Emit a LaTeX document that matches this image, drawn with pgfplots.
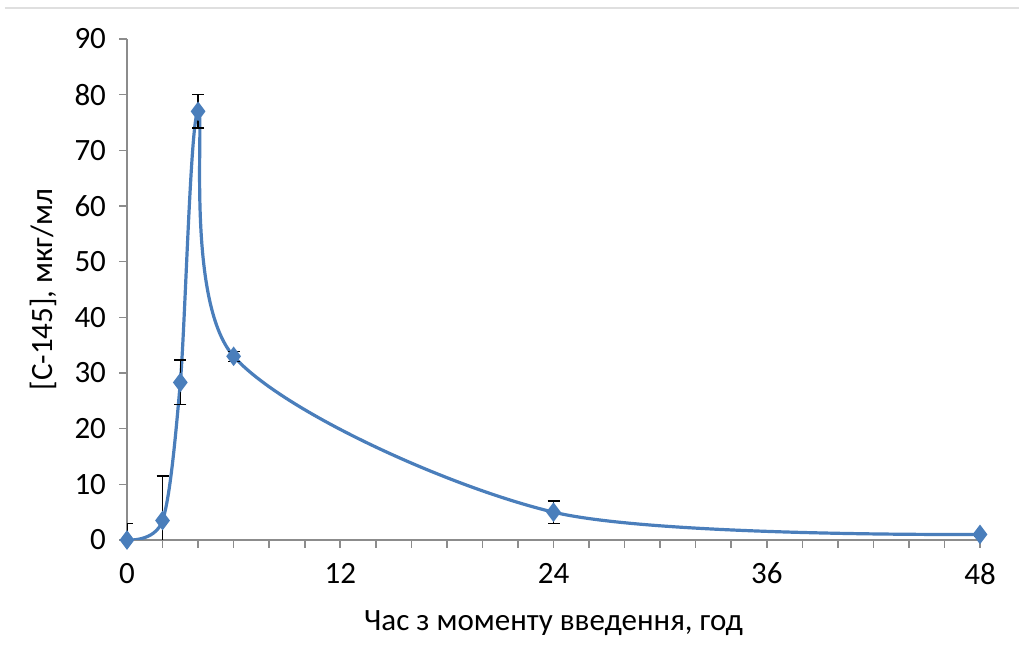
\documentclass[border=0pt]{standalone}
\usepackage{fontspec}
\setmainfont{Carlito}
\usepackage{pgfplots}
\pgfplotsset{compat=1.18}
\definecolor{ser}{HTML}{4A7EBB}
\definecolor{axgray}{HTML}{8C8C8C}
\begin{document}
\begin{tikzpicture}
\begin{axis}[
  scale only axis,
  width=426.5pt, height=250.5pt,
  xmin=0, xmax=48, ymin=0, ymax=90,
  xtick={0,12,24,36,48},
  minor xtick={2,4,...,46},
  ytick={0,10,...,90},
  axis x line*=bottom, axis y line*=left,
  axis line style={axgray, line width=0.8pt, -},
  tick style={axgray, line width=0.8pt},
  major tick length=4pt, minor tick length=4pt,
  tick align=outside,
  xtick pos=bottom, ytick pos=left,
  /pgf/number format/assume math mode=true,
  tick label style={font=\fontsize{15.5}{18}\selectfont, black},
  yticklabel style={xshift=-3pt},
  xticklabel style={yshift=-4pt},
  label style={font=\fontsize{15.5}{18}\selectfont, black},
  xlabel={Час з моменту введення, год},
  ylabel={[С-145], мкг/мл},
  xlabel style={yshift=-6pt},
  ylabel style={yshift=2pt},
  clip=true,
]
\addplot[ser, line width=1.6pt, smooth, tension=0.5,
  mark=diamond*, mark size=3.6pt, mark options={fill=ser, draw=ser},
  error bars/.cd, y dir=both, y explicit,
  error bar style={black, line width=0.7pt},
  error mark options={black, line width=0.7pt, mark size=3pt, rotate=90}]
coordinates {
  (0,0) +- (0,3)
  (2,3.5) +- (0,8)
  (3,28.3) +- (0,4)
  (4,77) +- (0,3)
  (6,33) +- (0,0.9)
  (24,5) +- (0,2)
  (48,1) +- (0,0.3)
};
\end{axis}
\draw[gray!25, line width=0.6pt] ([xshift=-61pt,yshift=15.5pt]current axis.north west) -- ([xshift=19.5pt,yshift=15.5pt]current axis.north east);
\pgfresetboundingbox
\path[use as bounding box] ([xshift=-63.5pt,yshift=-59.5pt]current axis.south west) rectangle ([xshift=19.5pt,yshift=19.5pt]current axis.north east);
\end{tikzpicture}
\end{document}
